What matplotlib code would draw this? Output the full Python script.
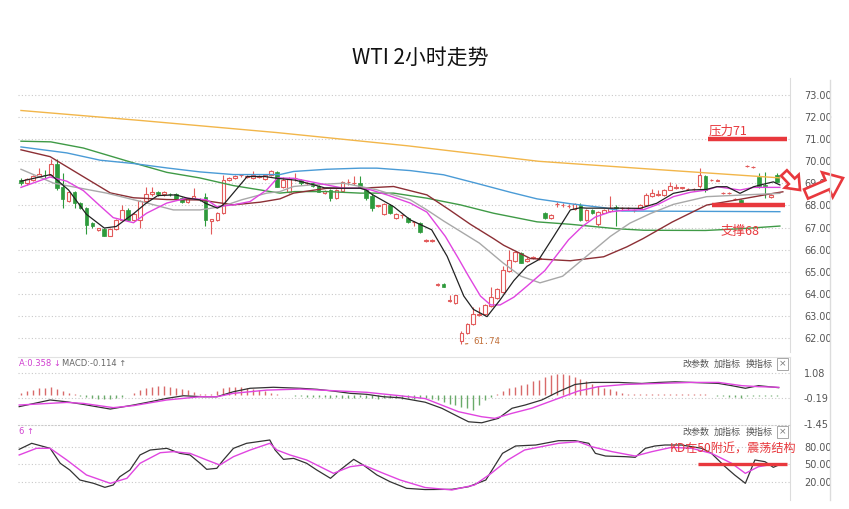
import matplotlib
matplotlib.use('Agg')
import matplotlib.pyplot as plt
import numpy as np
from matplotlib.patches import FancyArrow
from matplotlib.lines import Line2D
from matplotlib.transforms import IdentityTransform

plt.rcParams['font.family'] = ['DejaVu Sans', 'Noto Sans CJK SC']

# ── Data: 2h candles ──────────────────────────────────────────────────────────
opens = [69.15, 69.0, 69.15, 69.35, 69.4, 69.4, 69.9, 68.85, 68.2, 68.6,
         68.1, 67.9, 67.2, 66.88, 66.95, 66.62, 66.95, 67.35, 67.8, 67.35,
         67.35, 68.2, 68.5, 68.6, 68.5, 68.52, 68.5, 68.33, 68.15, 68.35,
         68.3, 68.4, 67.3, 67.35, 67.65, 69.15, 69.25, 69.38, 69.3, 69.25,
         69.3, 69.2, 69.4, 69.5, 68.85, 68.6, 69.25, 69.15, 69.0, 69.0,
         68.9, 68.55, 68.7, 68.33, 68.65, 69.05, 69.0, 69.0, 68.7, 68.45,
         67.98, 67.6, 68.0, 67.45, 67.55, 67.45, 67.25, 67.2, 66.4, 66.38,
         64.38, 64.45, 63.7, 63.6, 61.85, 62.25, 62.65, 63.05, 63.1, 63.45,
         63.8, 64.1, 65.05, 65.5, 65.85, 65.5, 65.62, 65.6, 67.65, 67.45,
         68.05, 68.0, 67.97, 67.85, 68.03, 67.35, 67.8, 67.15, 67.68, 67.75,
         67.95, 67.88, 67.88, 67.8, 67.88, 68.03, 68.41, 68.48, 68.48, 68.71,
         68.8, 68.8, 68.75, 68.75, 68.86, 69.35, 69.16, 69.13, 68.55, 68.55,
         68.29, 68.26, 69.79, 69.73, 69.27, 68.95, 68.38, 69.38]
highs = [69.25, 69.25, 69.4, 69.7, 69.6, 70.1, 70.1, 69.45, 68.65, 68.65,
         68.15, 67.95, 67.25, 67.0, 67.0, 67.0, 67.4, 68.0, 67.9, 67.7,
         68.25, 68.85, 68.85, 68.65, 68.65, 68.55, 68.55, 68.4, 68.35, 68.8,
         68.35, 68.55, 67.4, 67.7, 69.4, 69.3, 69.4, 69.42, 69.36, 69.55,
         69.38, 69.42, 69.6, 69.55, 69.3, 69.3, 69.45, 69.2, 69.05, 69.05,
         68.95, 68.7, 68.75, 68.75, 69.1, 69.2, 69.35, 69.35, 68.75, 68.5,
         68.0, 68.1, 68.05, 67.65, 67.6, 67.5, 67.3, 67.25, 66.5, 66.5,
         64.5, 64.5, 63.95, 63.95, 62.3, 62.7, 63.4, 63.4, 63.55, 64.3,
         64.25, 65.25, 66.0, 65.95, 65.9, 65.65, 65.7, 65.65, 67.7, 67.6,
         68.15, 68.1, 68.05, 68.1, 68.1, 67.85, 67.85, 67.75, 67.85, 68.45,
         68.0, 67.95, 67.95, 67.85, 68.05, 68.55, 68.74, 68.71, 68.75, 69.08,
         68.98, 68.85, 68.8, 68.8, 69.69, 69.38, 69.2, 69.18, 68.6, 68.6,
         68.33, 68.3, 69.83, 69.77, 69.45, 69.52, 68.5, 69.45]
lows = [68.95, 68.95, 69.1, 69.3, 69.2, 69.35, 68.7, 67.9, 68.15, 67.9,
        67.85, 66.7, 67.0, 66.85, 66.6, 66.6, 66.9, 67.3, 67.3, 67.3,
        67.0, 68.15, 68.45, 68.45, 68.45, 68.45, 68.25, 68.1, 68.1, 68.3,
        68.2, 67.05, 66.7, 67.3, 67.6, 69.1, 69.2, 69.3, 69.25, 69.2,
        69.25, 69.15, 69.35, 68.85, 68.8, 68.55, 69.1, 68.95, 68.95, 68.85,
        68.6, 68.5, 68.2, 68.3, 68.6, 68.95, 68.95, 68.8, 68.25, 67.75,
        67.95, 67.55, 67.6, 67.4, 67.45, 67.2, 67.05, 66.75, 66.35, 66.35,
        64.35, 64.3, 63.65, 63.55, 61.74, 62.2, 62.6, 63.0, 63.05, 63.4,
        63.75, 64.05, 65.0, 65.45, 65.38, 65.45, 65.6, 65.55, 67.4, 67.4,
        67.95, 67.95, 67.9, 67.8, 67.3, 67.3, 67.6, 67.05, 67.65, 67.7,
        67.05, 67.8, 67.8, 67.7, 67.85, 68.0, 68.38, 68.45, 68.45, 68.68,
        68.75, 68.75, 68.7, 68.7, 68.8, 68.6, 69.1, 69.1, 68.5, 68.5,
        68.25, 68.0, 69.75, 69.69, 68.8, 68.32, 68.35, 69.05]
closes = [69.0, 69.2, 69.35, 69.42, 69.38, 69.9, 68.8, 68.3, 68.6, 68.1,
          67.9, 67.1, 67.05, 66.98, 66.62, 66.95, 67.35, 67.8, 67.35, 67.6,
          68.2, 68.5, 68.6, 68.5, 68.6, 68.5, 68.3, 68.15, 68.33, 68.42,
          68.28, 67.35, 67.38, 67.65, 69.15, 69.25, 69.35, 69.38, 69.3, 69.4,
          69.3, 69.4, 69.55, 68.85, 69.15, 69.2, 69.25, 69.0, 69.0, 68.86,
          68.63, 68.65, 68.33, 68.7, 69.05, 69.05, 69.02, 68.85, 68.33, 67.9,
          68.02, 68.05, 67.65, 67.6, 67.55, 67.25, 67.25, 66.8, 66.42, 66.46,
          64.45, 64.3, 63.72, 63.95, 62.25, 62.65, 63.1, 63.1, 63.5, 63.85,
          64.2, 65.1, 65.55, 65.88, 65.4, 65.6, 65.66, 65.6, 67.45, 67.55,
          68.05, 68.0, 67.97, 68.05, 67.35, 67.8, 67.65, 67.72, 67.8, 67.9,
          67.88, 67.88, 67.88, 67.8, 68.03, 68.48, 68.56, 68.5, 68.71, 68.86,
          68.8, 68.8, 68.75, 68.75, 69.39, 68.72, 69.16, 69.13, 68.55, 68.55,
          68.29, 68.03, 69.79, 69.73, 68.86, 68.9, 68.47, 69.07]

# ── Moving averages (read at candle positions) ────────────────────────────────
ma_black_x = [0, 5, 8, 11, 14, 16, 19, 21, 23, 26, 28, 30, 31, 33, 34, 38, 41, 43, 46, 49,
              51, 54, 57, 58, 59, 62.6, 65.4, 69, 71.6, 74.4, 76, 78.3, 80.5, 82.8, 85, 87,
              89.5, 92.3, 94, 95, 100.7, 104, 106.8, 109.6, 112.4, 115.2, 116.9, 118.6,
              120.8, 123.1, 125.3, 126.4, 127.5]
ma_black_y = [69.1, 69.4, 68.7, 67.6, 66.98, 67.05, 67.65, 68.1, 68.45, 68.48, 68.33, 68.26,
              68.1, 67.88, 68.03, 69.31, 69.31, 69.23, 69.15, 68.95, 68.8, 68.78, 68.78, 68.7,
              68.5, 67.95, 67.35, 66.9, 65.7, 63.9, 63.3, 62.97, 63.73, 64.6, 65.25, 65.55,
              66.6, 67.8, 67.9, 67.88, 67.88, 67.87, 68.1, 68.55, 68.7, 68.73, 68.85, 68.85,
              68.55, 68.85, 69.0, 69.07, 68.93]
ma_mag_x = [0, 4.9, 7.7, 10.5, 13.3, 15.5, 18.9, 21.1, 24.5, 27.8, 31.2, 32.9, 35.7, 38.5,
            41.3, 43.1, 45.8, 48.6, 51.4, 54.2, 57, 58.7, 61.5, 65.4, 68.2, 71.3, 73.5, 75.2,
            77.2, 78.9, 80.5, 82.8, 85, 88, 92, 94.3, 96.5, 99, 101.2, 104.6, 107, 109.6,
            112.5, 115.2, 117, 120.8, 123.1, 127.5]
ma_mag_y = [68.82, 69.29, 69.1, 68.67, 67.98, 67.45, 67.22, 67.65, 68.11, 68.33, 68.26, 67.95,
            68.03, 68.18, 68.71, 69.25, 69.23, 69.08, 68.93, 68.78, 68.78, 68.71, 68.48, 68.11,
            67.7, 66.6, 65.6, 64.8, 63.9, 63.5, 63.5, 63.85, 64.35, 65.05, 66.45, 67.05, 67.48,
            67.71, 67.78, 67.81, 68.05, 68.4, 68.6, 68.7, 68.85, 68.7, 68.82, 68.82]
ma_gray_x = [0, 5.5, 14.4, 21.2, 25.6, 30.1, 33.7, 37.1, 41.3, 43.5, 45.8, 48.6, 54.2, 57,
             59.8, 62.6, 65.4, 68.2, 71, 74, 77, 81, 84, 87.2, 91, 95, 99, 102.3, 105.7,
             109.6, 115.2, 120.8, 127.5]
ma_gray_y = [69.64, 69.01, 68.56, 68.11, 67.8, 67.8, 67.95, 68.26, 68.56, 68.63, 68.86, 68.93,
             69.01, 68.86, 68.71, 68.48, 68.26, 67.8, 67.3, 66.8, 66.3, 65.4, 64.8, 64.5, 64.8,
             65.7, 66.6, 67.2, 67.63, 68.05, 68.4, 68.47, 68.55]
ma_brown_x = [0, 4.9, 10.5, 15, 18.9, 24.5, 30.1, 35.7, 40.2, 43.5, 45.8, 51.4, 57, 62.6,
              68.2, 72, 75.5, 79.4, 81.1, 85.6, 92.3, 97.9, 101.8, 104.5, 109.4, 115.2,
              120.8, 126.4, 128]
ma_brown_y = [70.52, 70.21, 69.3, 68.57, 68.35, 68.27, 68.25, 68.03, 68.15, 68.3, 68.56, 68.78,
              68.78, 68.86, 68.48, 67.8, 67.15, 66.5, 66.2, 65.6, 65.5, 65.68, 66.13, 66.5,
              67.25, 68.02, 68.28, 68.55, 68.62]
ma_green_x = [0, 5, 10.5, 19, 24.5, 30, 35.7, 43.5, 46, 51.4, 57, 62.6, 68.2, 73.8, 79.4,
              86.7, 92.3, 100, 104.6, 115, 121, 127.5]
ma_green_y = [70.91, 70.88, 70.6, 69.92, 69.5, 69.25, 68.9, 68.56, 68.63, 68.63, 68.56, 68.56,
              68.33, 68.03, 67.65, 67.26, 67.15, 66.95, 66.88, 66.87, 66.95, 67.07]
ma_blue_x = [0, 7.7, 13.3, 18.9, 24.5, 30.1, 35.7, 43.5, 45.8, 51.4, 57, 59.8, 65.4, 71,
             76.6, 82.2, 86.7, 92.3, 97.9, 101, 127.5]
ma_blue_y = [70.65, 70.38, 70.05, 69.9, 69.7, 69.52, 69.4, 69.4, 69.54, 69.64, 69.69, 69.69,
             69.58, 69.39, 69.0, 68.6, 68.3, 68.08, 67.9, 67.75, 67.72]
ma_gold_x = [0, 20, 43, 65, 87, 104, 127.5]
ma_gold_y = [72.3, 71.85, 71.3, 70.7, 70.0, 69.68, 69.25]

# ── MACD ──────────────────────────────────────────────────────────────────────
dif_x = [-0.3, 4.9, 7.7, 10.5, 15, 18.9, 21.7, 24.5, 27.3, 30.6, 32.9, 35.7, 38.5, 42.4,
         46.9, 49.7, 52.5, 55.3, 58.1, 60.9, 63.7, 67.9, 70.7, 73.5, 75.2, 77.4, 80.2, 82.5,
         84.7, 87.5, 90.3, 93.1, 95.9, 100.4, 104.3, 107.1, 109.9, 112.7, 117.2, 119.4,
         121.7, 123.9, 127.3]
dif_y = [-0.6, -0.27, -0.36, -0.49, -0.72, -0.52, -0.36, -0.19, -0.06, -0.11, -0.11, 0.14,
         0.31, 0.36, 0.31, 0.26, 0.17, 0.06, 0.01, -0.11, -0.16, -0.38, -0.68, -1.1, -1.35,
         -1.4, -1.18, -0.68, -0.52, -0.27, 0.14, 0.5, 0.6, 0.6, 0.55, 0.6, 0.63, 0.6, 0.55,
         0.44, 0.31, 0.44, 0.34]
dea_x = [-0.3, 7.7, 10.5, 15.5, 18.9, 24.5, 30.1, 32.9, 35.7, 41.3, 46.9, 52.5, 58.1, 63.7,
         67.9, 73.5, 77.4, 79.6, 82.5, 85.8, 90.3, 93.6, 97, 101.5, 107.1, 112.7, 117.2,
         121.1, 123.9, 127.3]
dea_y = [-0.52, -0.39, -0.44, -0.65, -0.55, -0.27, -0.11, -0.11, 0.06, 0.22, 0.27, 0.19,
         0.11, -0.06, -0.2, -0.85, -1.1, -1.18, -0.93, -0.68, -0.19, 0.17, 0.39, 0.5, 0.55,
         0.6, 0.6, 0.44, 0.39, 0.36]
macd_hist = [0.1, 0.16, 0.23, 0.3, 0.33, 0.38, 0.26, 0.16, 0.1, 0.05,
             -0.05, -0.1, -0.15, -0.2, -0.22, -0.2, -0.15, -0.1, -0.03,
             0.1, 0.21, 0.33, 0.38, 0.43, 0.41, 0.38, 0.3, 0.26, 0.21, 0.13, 0.05,
             0.02, 0.01,
             0.16, 0.3, 0.35, 0.38, 0.35, 0.3, 0.26, 0.21, 0.16, 0.1, 0.05,
             -0.02, -0.03, -0.05, -0.08, -0.1, -0.12, -0.1, -0.12, -0.15, -0.13, -0.15, -0.17,
             -0.15, -0.13, -0.15, -0.17, -0.2, -0.18, -0.15, -0.17, -0.2, -0.18, -0.2, -0.17,
             -0.17, -0.2, -0.28, -0.36, -0.45, -0.53, -0.61, -0.69, -0.78, -0.53, -0.28, -0.12,
             0.03,
             0.17, 0.3, 0.38, 0.46, 0.54, 0.66, 0.71, 0.87, 0.99, 1.04, 1.04, 0.99, 0.87, 0.76,
             0.66, 0.54, 0.43, 0.33, 0.26, 0.17, 0.1, 0.05,
             0.03, 0.02, 0.03, 0.02, 0.03, 0.03, 0.02, 0.03, 0.02, 0.02, 0.03, 0.02, 0.01, -0.02,
             -0.05, -0.08, -0.1, -0.12, -0.15, -0.08, -0.05, -0.05, -0.08, -0.05, -0.05]

# ── KD ────────────────────────────────────────────────────────────────────────
k_x = [-0.3, 1.8, 4.9, 6.6, 8.2, 9.9, 12.2, 14.1, 15.5, 16.6, 18.3, 20, 21.7, 24.5, 26.7,
       28.4, 30.1, 31.2, 32.9, 34, 35.7, 37.9, 41.8, 42.7, 44.1, 45.8, 48, 49.7, 52, 53.6,
       55.9, 57.5, 59.8, 62, 64.8, 67.9, 72.4, 75.2, 78.1, 80.9, 83.1, 86.5, 90.3, 93.1,
       95.4, 96.5, 98.2, 101.5, 103.2, 104.9, 106.5, 108.2, 111, 112.7, 114.4, 116, 118.3,
       119.9, 121.7, 123.3, 125, 126.4, 127.3]
k_y = [75.5, 85.8, 77.2, 51.5, 40, 22.9, 17.2, 10.3, 14.3, 28.5, 40, 65.8, 74.3, 77.2, 68.6,
       65.8, 51.5, 41.2, 42.9, 57.2, 77.2, 85.8, 91.5, 74.3, 58.3, 60, 51.5, 40, 25.8, 40,
       58.3, 48.6, 31.5, 20, 8.6, 6.5, 6.9, 11.4, 22.9, 68.6, 81.2, 82.9, 90.3, 90.3, 85.8,
       68.6, 64, 62.9, 61.8, 77.2, 81.2, 82.9, 82.9, 80, 77.2, 68.6, 45.7, 31.5, 17.2, 57.2,
       54.3, 44.6, 48.6]
d_x = [-0.3, 2.6, 4.9, 7.7, 11, 15, 17.8, 20, 23.4, 25.6, 28.4, 31.2, 33.4, 35.7, 38.5,
       41.8, 43, 45.2, 48, 52.5, 55.3, 57.5, 60.9, 63.7, 67.9, 72.4, 76.2, 79, 81.8, 84.6,
       87.4, 90.3, 93.6, 95.9, 99.3, 103.2, 106, 109.3, 112.7, 116, 119.4, 121.7, 123.9,
       125.6, 127.3]
d_y = [65.8, 77.2, 77.2, 57.2, 31.5, 17.2, 25.8, 51.5, 69.7, 71.5, 68.6, 57.2, 48.6, 62.9,
       74.3, 85.8, 74.3, 65.8, 57.2, 34.3, 45.7, 48.6, 34.3, 22.9, 10, 5.8, 14.3, 34.3, 57.2,
       74.3, 80, 85.8, 88.6, 80, 71.5, 64, 71.5, 78.9, 77.2, 68.6, 51.5, 34.3, 45.7, 48.6,
       48.6]

main_ticks = [62, 63, 64, 65, 66, 67, 68, 69, 70, 71, 72, 73]
macd_ticks = [1.08, -0.19, -1.45]
kd_ticks = [80, 50, 20]

# ── Style ─────────────────────────────────────────────────────────────────────
W, H = 849, 509
RED_UP, GREEN_DN = '#e25b5b', '#2e9a3c'
NOTE_RED = '#e8383d'
GRID = '#c9c9c9'
LABEL = '#555555'
CJK = ['Noto Sans CJK SC', 'DejaVu Sans']


def rect(top, bottom):
    return [18 / W, 1 - bottom / H, 772 / W, (bottom - top) / H]


def px(x, y):
    return x / W, 1 - y / H


fig = plt.figure(figsize=(8.49, 5.09), dpi=100)
ax = fig.add_axes(rect(78, 352))
ax_m = fig.add_axes(rect(357, 424))
ax_k = fig.add_axes(rect(425, 500))

for a in (ax, ax_m, ax_k):
    a.set_xlim(-0.5, 129.2)
    a.yaxis.tick_right()
    a.tick_params(axis='y', length=0, pad=10, labelsize=7, labelcolor=LABEL)
    a.tick_params(axis='x', bottom=False, labelbottom=False)
    a.grid(axis='y', linestyle=(0, (1, 2)), color=GRID, lw=0.8)
    a.set_axisbelow(True)
    for s in ('left', 'bottom', 'top'):
        a.spines[s].set_visible(False)
    a.spines['right'].set_color('#dcdcdc')

# ── Main panel: candles + MAs ─────────────────────────────────────────────────
o, h, l, c = (np.array(v) for v in (opens, highs, lows, closes))
idx = np.arange(len(c))
up = c >= o
ax.vlines(idx, l, h, colors=np.where(up, RED_UP, GREEN_DN), lw=0.8, zorder=2)
body = np.maximum(np.abs(c - o), 0.015)
ax.bar(idx[up], body[up], bottom=o[up], width=0.62, facecolor='white',
       edgecolor=RED_UP, lw=0.8, zorder=3)
ax.bar(idx[~up], body[~up], bottom=c[~up], width=0.62, color=GREEN_DN,
       edgecolor=GREEN_DN, lw=0.5, zorder=3)

ax.plot(ma_gold_x, ma_gold_y, color='#f2b64a', lw=1.0, zorder=4)
ax.plot(ma_green_x, ma_green_y, color='#3f9a46', lw=1.0, zorder=4)
ax.plot(ma_blue_x, ma_blue_y, color='#4a9bd6', lw=1.0, zorder=4)
ax.plot(ma_brown_x, ma_brown_y, color='#8c2f35', lw=1.0, zorder=4)
ax.plot(ma_gray_x, ma_gray_y, color='#a8a8a8', lw=1.0, zorder=4)
ax.plot(ma_mag_x, ma_mag_y, color='#e045e0', lw=1.0, zorder=5)
ax.plot(ma_black_x, ma_black_y, color='#222222', lw=0.9, zorder=6)

ax.set_ylim(61.37, 73.77)
ax.set_yticks(main_ticks)
ax.set_yticklabels([f'{t:.2f}' for t in main_ticks])

# resistance / support notes
ax.plot([115.5, 128.7], [71, 71], color=NOTE_RED, lw=3.2, solid_capstyle='butt', zorder=7)
ax.text(115.6, 71.37, '压力71', color=NOTE_RED, fontsize=9, family=CJK, va='center', zorder=7)
ax.plot([116.1, 128.4], [68, 68], color=NOTE_RED, lw=3.2, solid_capstyle='butt', zorder=7)
ax.text(117.5, 66.84, '支撑68', color=NOTE_RED, fontsize=9, family=CJK, va='center', zorder=7)
ax.annotate('61.74', xy=(74.2, 61.72), xytext=(76.0, 61.86), color='#c2703a', fontsize=6.5,
            family='DejaVu Sans Mono', va='center',
            arrowprops=dict(arrowstyle='-', color='#c2703a', lw=0.8))

# ── MACD panel ────────────────────────────────────────────────────────────────
hist = np.array(macd_hist)
ax_m.vlines(idx, 0, hist, colors=np.where(hist >= 0, '#d86a6a', '#6aaa6a'), lw=1.0)
ax_m.plot(dif_x, dif_y, color='#333333', lw=0.9)
ax_m.plot(dea_x, dea_y, color='#e045e0', lw=1.0)
ax_m.set_ylim(-1.46, 1.86)
ax_m.set_yticks(macd_ticks)
ax_m.set_yticklabels([f'{t:.2f}' for t in macd_ticks])
ax_m.spines['top'].set_visible(True)
ax_m.spines['top'].set_color('#e2e2e2')

# ── KD panel ──────────────────────────────────────────────────────────────────
ax_k.plot(k_x, k_y, color='#333333', lw=0.9)
ax_k.plot(d_x, d_y, color='#e045e0', lw=1.0)
ax_k.set_ylim(-11.4, 117.2)
ax_k.set_yticks(kd_ticks)
ax_k.set_yticklabels([f'{t:.2f}' for t in kd_ticks])
ax_k.spines['top'].set_visible(True)
ax_k.spines['top'].set_linestyle((0, (1, 2)))
ax_k.spines['top'].set_color(GRID)
ax_k.plot([113.8, 128.7], [50, 50], color=NOTE_RED, lw=2.4, solid_capstyle='butt', zorder=7)
ax_k.text(109.0, 76, 'KD在50附近，震荡结构', color=NOTE_RED, fontsize=8.7, family=CJK,
          va='center', zorder=8)

# ── Headers and toolbar texts ─────────────────────────────────────────────────
fig.text(*px(420, 58), 'WTI 2小时走势', ha='center', va='center', fontsize=15,
         family=CJK, color='#111111')
fig.text(*px(19, 364), 'A:0.358 ↓', color='#d040d0', fontsize=6, va='center')
fig.text(*px(62, 364), 'MACD:-0.114 ↑', color='#666666', fontsize=6, va='center')
fig.text(*px(19, 432), '6 ↑', color='#d040d0', fontsize=6, va='center')
for y in (364, 432):
    for x, s in ((682, '改参数'), (714, '加指标'), (746, '换指标')):
        fig.text(*px(x, y), s, color='#555555', fontsize=6.5, family=CJK, va='center')
    fig.text(*px(782.5, y), '×', color='#777777', fontsize=6.5, ha='center', va='center',
             bbox=dict(boxstyle='square,pad=0.15', fc='white', ec='#999999', lw=0.6))

# right border of the label column
fig.add_artist(Line2D([830 / W, 830 / W], [1 - 80 / H, 1 - 500 / H],
                      color='#dcdcdc', lw=1.0, transform=fig.transFigure))

# outlined red arrows on the right edge (pixel coordinates)
for x0, y0, dx, dy, w, hw, hl in ((784, 336, 16, -17, 8, 19, 12),
                                  (806, 315, 37, 16, 10, 27, 17)):
    fig.add_artist(FancyArrow(x0, y0, dx, dy, width=w, head_width=hw, head_length=hl,
                              length_includes_head=True, facecolor='white',
                              edgecolor=NOTE_RED, lw=1.9, transform=IdentityTransform()))

fig.savefig('out.png', dpi=100)
